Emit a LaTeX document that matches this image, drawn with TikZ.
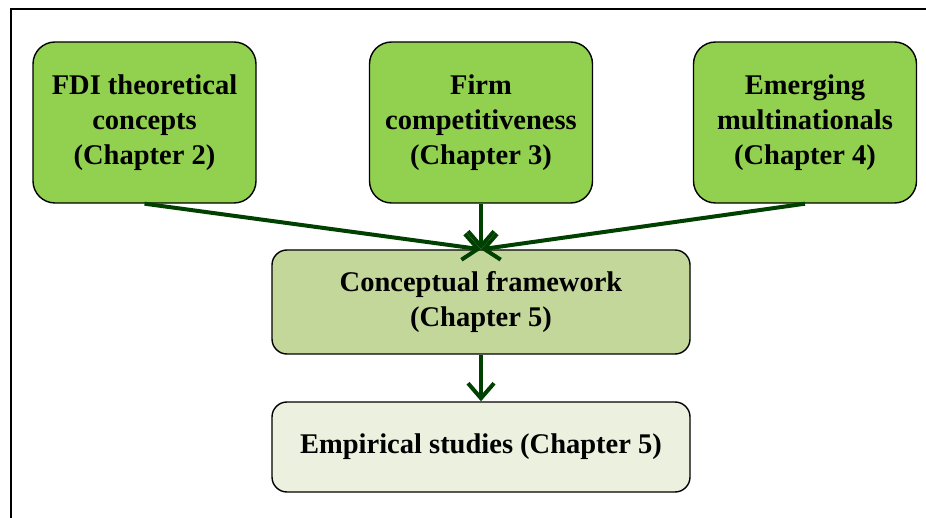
\documentclass[tikz,border=0pt]{standalone}
\usepackage{fontspec}
\setmainfont{Liberation Serif}
\usetikzlibrary{arrows.meta}
\definecolor{leafgreen}{RGB}{146,208,80}
\definecolor{sagegreen}{RGB}{196,215,155}
\definecolor{palegreen}{RGB}{235,241,222}
\definecolor{darkarrow}{RGB}{0,64,0}
\tikzset{
  boxtext/.style={font=\fontsize{28.5}{35}\selectfont\bfseries},
  chapbox/.style={draw=black, line width=1.4pt, rounded corners=22pt, fill=leafgreen,
    minimum width=223pt, minimum height=161pt, inner sep=0pt, align=center, boxtext},
  widebox/.style={draw=black, line width=1.4pt, rounded corners=15pt,
    minimum width=418pt, inner sep=0pt, align=center, boxtext},
  flow/.style={draw=darkarrow, line width=4pt,
    -{Straight Barb[length=15pt,width=26pt]}}
}
\begin{document}
\begin{tikzpicture}[x=1pt,y=-1pt]
  \useasboundingbox (0,0) rectangle (926,518);
  % outer frame (only its top and left edges fall inside the page)
  \draw[line width=1.6pt] (11,518) -- (11,9) -- (926,9);

  \node[chapbox] (fdi)  at (144.5,122.5) {FDI theoretical\\concepts\\(Chapter 2)};
  \node[chapbox] (firm) at (481,122.5)   {Firm\\competitiveness\\(Chapter 3)};
  \node[chapbox] (emnc) at (805,122.5)   {Emerging\\multinationals\\(Chapter 4)};

  \node[widebox, fill=sagegreen, minimum height=104pt] (frame) at (481,302)
    {Conceptual framework\\(Chapter 5)};
  \node[widebox, fill=palegreen, minimum height=90pt] (emp) at (481,447)
    {Empirical studies (Chapter 5)};

  \draw[flow] (fdi.south)  -- (frame.north);
  \draw[flow] (firm.south) -- (frame.north);
  \draw[flow] (emnc.south) -- (frame.north);
  \draw[flow] (frame.south) -- (emp.north);
\end{tikzpicture}
\end{document}
